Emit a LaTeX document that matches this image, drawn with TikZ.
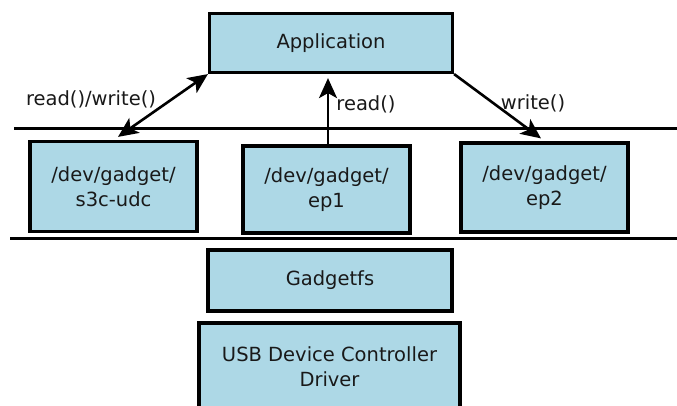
\documentclass[tikz,border=0pt]{standalone}
\usepackage{fontspec}
\setmainfont{DejaVu Sans}
\usetikzlibrary{arrows.meta,calc}
\definecolor{boxblue}{RGB}{173,216,230}
\definecolor{inkgray}{RGB}{25,25,25}
\begin{document}
\begin{tikzpicture}[x=1pt,y=-1pt,
  blk/.style={draw=black,fill=boxblue,line width=3.2pt,inner sep=0pt,
    text=inkgray,font=\fontsize{19.5}{25}\selectfont,align=center},
  tip/.tip={Stealth[length=20pt,width=18pt,inset=5pt]},
  conn/.style={line width=2.6pt,-tip},
  lbl/.style={text=inkgray,font=\fontsize{19.5}{24}\selectfont,inner sep=0pt},
  sep/.style={line width=3pt}]
\clip (0,0) rectangle (677,406);
\fill[white] (0,0) rectangle (677,406);
\node[blk,minimum width=243pt,minimum height=59pt] (app) at (331,43) {Application};
\node[blk,minimum width=167pt,minimum height=90pt] (s3c) at (113.5,186.5) {/dev/gadget/\\s3c-udc};
\node[blk,minimum width=167pt,minimum height=87pt] (ep1) at (326.5,189.5) {/dev/gadget/\\ep1};
\node[blk,minimum width=167pt,minimum height=89pt] (ep2) at (544.5,187.5) {/dev/gadget/\\ep2};
\node[blk,minimum width=244pt,minimum height=61pt] (gfs) at (330,280.5) {Gadgetfs};
\node[blk,minimum width=261pt,minimum height=110pt] (usb) at (329.5,378) {};
\node[lbl,align=center,font=\fontsize{19.5}{25}\selectfont] (usbt) at (329.5,367) {USB Device Controller\\Driver};
\coordinate (l1a) at (14,129);
\coordinate (l1b) at (677,129);
\coordinate (l2a) at (10,238);
\coordinate (l2b) at (677,238);
\draw[sep] (l1a) -- (l1b);
\draw[sep] (l2a) -- (l2b);
\coordinate (s3ctop) at ($(s3c.north)+(4.5,-3)$);
\coordinate (ep1top) at ($(ep1.north)+(1.5,0)$);
\coordinate (apptip) at ($(ep1top |- app.south)+(0,4)$);
\coordinate (ep2top) at ($(ep2.north)+(-3.5,-3)$);
\draw[line width=2.6pt,tip-tip] (s3ctop) -- (app.south west);
\draw[conn] (ep1top) -- (apptip);
\draw[conn] (app.south east) -- (ep2top);
\node[lbl] (lrw) at (91,99) {read()/write()};
\node[lbl] (lr) at (366,104) {read()};
\node[lbl] (lw) at (533,103) {write()};
\end{tikzpicture}
\end{document}
